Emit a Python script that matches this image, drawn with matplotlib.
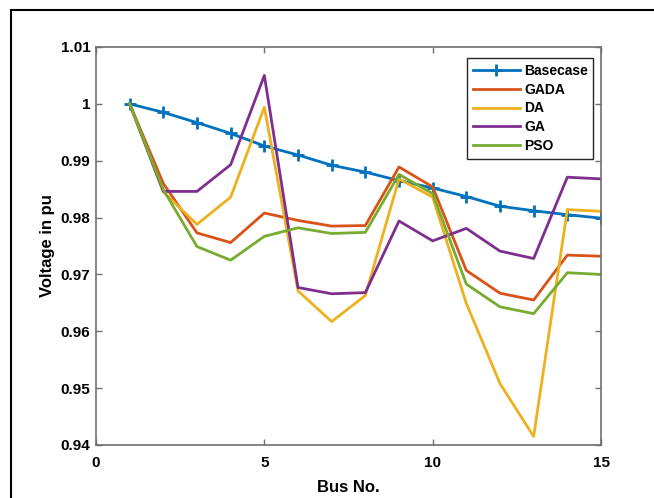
import numpy as np
import matplotlib.pyplot as plt
from matplotlib.patches import Rectangle

# ---- data ----
bus = np.arange(1, 16)
basecase = [1.0000, 0.9985, 0.9967, 0.9948, 0.9926, 0.9910, 0.9892, 0.9880,
            0.9865, 0.9852, 0.9837, 0.9820, 0.9812, 0.9805, 0.9799]
gada = [1.0000, 0.9860, 0.9773, 0.9756, 0.9808, 0.9795, 0.9785, 0.9786,
        0.9889, 0.9854, 0.9707, 0.9667, 0.9655, 0.9734, 0.9732]
da = [1.0000, 0.9845, 0.9788, 0.9836, 0.9994, 0.9671, 0.9617, 0.9663,
      0.9868, 0.9836, 0.9649, 0.9508, 0.9415, 0.9814, 0.9811]
ga = [1.0000, 0.9846, 0.9846, 0.9893, 1.0050, 0.9677, 0.9666, 0.9668,
      0.9794, 0.9759, 0.9781, 0.9741, 0.9728, 0.9871, 0.9868]
pso = [1.0000, 0.9849, 0.9749, 0.9725, 0.9767, 0.9782, 0.9772, 0.9774,
       0.9876, 0.9842, 0.9683, 0.9643, 0.9631, 0.9703, 0.9700]

xticks = [0, 5, 10, 15]
yticks = [0.94, 0.95, 0.96, 0.97, 0.98, 0.99, 1.0, 1.01]
ytick_labels = ['0.94', '0.95', '0.96', '0.97', '0.98', '0.99', '1', '1.01']

plt.rcParams['font.family'] = ['Liberation Sans', 'DejaVu Sans']
plt.rcParams['font.weight'] = 'bold'

fig = plt.figure(figsize=(6.54, 4.98), dpi=100)
ax = fig.add_axes([96 / 654, 1 - 445 / 498, 505 / 654, 398 / 498])

lw = 2.0
ax.plot(bus, basecase, '-', color='#0072BD', lw=lw, marker='+', ms=8, mew=2,
        label='Basecase')
ax.plot(bus, gada, '-', color='#D95319', lw=lw, label='GADA')
ax.plot(bus, da, '-', color='#EDB120', lw=lw, label='DA')
ax.plot(bus, ga, '-', color='#7E2F8E', lw=lw, label='GA')
ax.plot(bus, pso, '-', color='#77AC30', lw=lw, label='PSO')

ax.set_xlim(0, 15)
ax.set_ylim(0.94, 1.01)
ax.set_xticks(xticks)
ax.set_yticks(yticks)
ax.set_yticklabels(ytick_labels)
ax.tick_params(direction='in', top=True, right=True, length=4, width=1,
               color='#707070', labelsize=11)
ax.tick_params(axis='x', pad=8)
ax.tick_params(axis='y', pad=4)
for lab in ax.get_xticklabels() + ax.get_yticklabels():
    lab.set_fontweight('bold')
for s in ax.spines.values():
    s.set_color('#707070')
    s.set_linewidth(1.2)

ax.set_xlabel('Bus No.', fontsize=12, fontweight='bold', labelpad=7)
ax.set_ylabel('Voltage in pu', fontsize=12, fontweight='bold', labelpad=4)

leg = ax.legend(loc='upper right', bbox_to_anchor=(0.985, 0.972),
                borderaxespad=0, fancybox=False, framealpha=1,
                edgecolor='#262626', handlelength=3.4, handletextpad=0.3,
                labelspacing=0.35, borderpad=0.4,
                prop={'weight': 'bold', 'size': 10})
leg.get_frame().set_linewidth(1.0)

# outer black frame (right and bottom edges fall outside the image)
fig.add_artist(Rectangle((10.5 / 654, -0.1), 1.2, 1 - 10 / 498 + 0.1,
                         transform=fig.transFigure, fill=False,
                         edgecolor='black', lw=1.5))

fig.savefig('out.png', dpi=100)
